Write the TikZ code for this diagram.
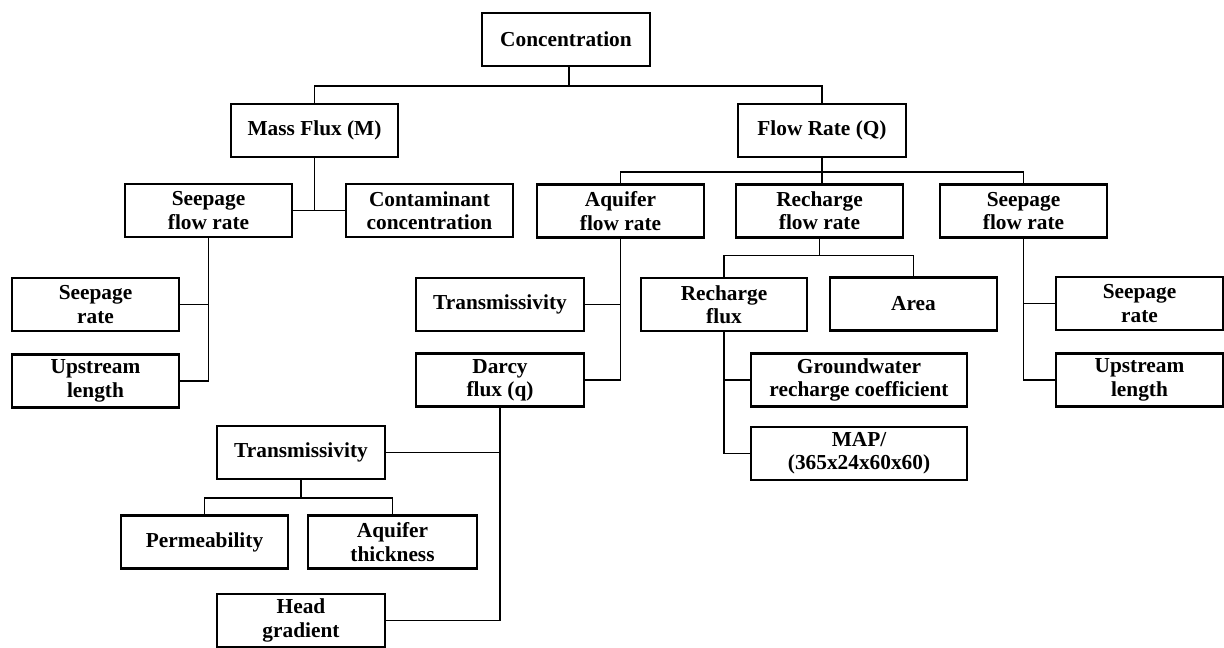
\documentclass[tikz,border=0pt]{standalone}
\usepackage{fontspec}
\setmainfont{Liberation Serif}
\begin{document}
\begin{tikzpicture}[x=0.75pt,y=-0.75pt,
  box/.style={draw, line width=1.7pt, inner sep=0pt, minimum height=53*0.75pt,
    align=center, font=\fontsize{16}{17.5}\selectfont\bfseries},
  wd/.style={minimum width=#1*0.75pt},
  conn/.style={line width=1.25pt}]
\useasboundingbox (0,0) rectangle (1224,648);
% level 0-1
\node[box,wd=168] (conc) at (566,39.5) {Concentration};
\node[box,wd=167] (mass) at (314.5,130.5) {Mass Flux (M)};
\node[box,wd=168] (flow) at (822,130.5) {Flow Rate (Q)};
% level 2
\node[box,wd=167] (sfl) at (208.5,210.5) {Seepage\\flow rate};
\node[box,wd=167] (cont) at (429.5,210.5) {Contaminant\\concentration};
\node[box,wd=167] (aq) at (620.5,211) {Aquifer\\flow rate};
\node[box,wd=167] (rfr) at (819.5,211) {Recharge\\flow rate};
\node[box,wd=167] (sfr) at (1023.5,211) {Seepage\\flow rate};
% level 3
\node[box,wd=167] (sr1) at (95.5,304.5) {Seepage\\rate};
\node[box,wd=167] (ul1) at (95.5,381) {Upstream\\length};
\node[box,wd=168] (tr1) at (500,304.5) {Transmissivity};
\node[box,wd=168] (darcy) at (500,380) {Darcy\\flux (q)};
\node[box,wd=166] (rflux) at (724,304.5) {Recharge\\flux};
\node[box,wd=167] (area) at (913.5,304) {Area};
\node[box,wd=167] (sr2) at (1139.5,303.5) {Seepage\\rate};
\node[box,wd=167] (ul2) at (1139.5,380) {Upstream\\length};
\node[box,wd=216] (gw) at (859,380) {Groundwater\\recharge coefficient};
\node[box,wd=216] (map) at (859,453.5) {MAP/\\(365x24x60x60)};
% level 4-5
\node[box,wd=168] (tr2) at (301,452.5) {Transmissivity};
\node[box,wd=167] (perm) at (204.5,542) {Permeability};
\node[box,wd=169] (thick) at (392.5,542) {Aquifer\\thickness};
\node[box,wd=168] (head) at (301,620.5) {Head\\gradient};
% connectors
\coordinate (j0) at (569,86);
\draw[conn] (conc.south -| j0) -- (j0);
\draw[conn] (mass.north) |- (j0) -| (flow.north);
\draw[conn] (mass.south) -- (mass.south |- sfl.east);
\draw[conn] (sfl.east) -- (cont.west);
\coordinate (j1) at (822,172);
\draw[conn] (flow.south) -- (j1);
\draw[conn] (aq.north) |- (j1) -| (sfr.north);
\draw[conn] (j1) -- (j1 |- rfr.north);
\draw[conn] (sfl.south) |- (ul1.east);
\draw[conn] (sr1.east) -- (sr1.east -| sfl.south);
\draw[conn] (aq.south) |- (darcy.east);
\draw[conn] (tr1.east) -- (tr1.east -| aq.south);
\path (rfr.south) ++(0,17) coordinate (j2);
\draw[conn] (rfr.south) -- (j2);
\draw[conn] (rflux.north) |- (j2) -| (area.north);
\draw[conn] (rflux.south) |- (map.west);
\draw[conn] (gw.west) -- (gw.west -| rflux.south);
\draw[conn] (sfr.south) |- (ul2.west);
\draw[conn] (sr2.west) -- (sr2.west -| sfr.south);
\draw[conn] (darcy.south) |- (head.east);
\draw[conn] (tr2.east) -- (tr2.east -| darcy.south);
\path (tr2.south) ++(0,18) coordinate (j3);
\draw[conn] (tr2.south) -- (j3);
\draw[conn] (perm.north) |- (j3) -| (thick.north);
\end{tikzpicture}
\end{document}
